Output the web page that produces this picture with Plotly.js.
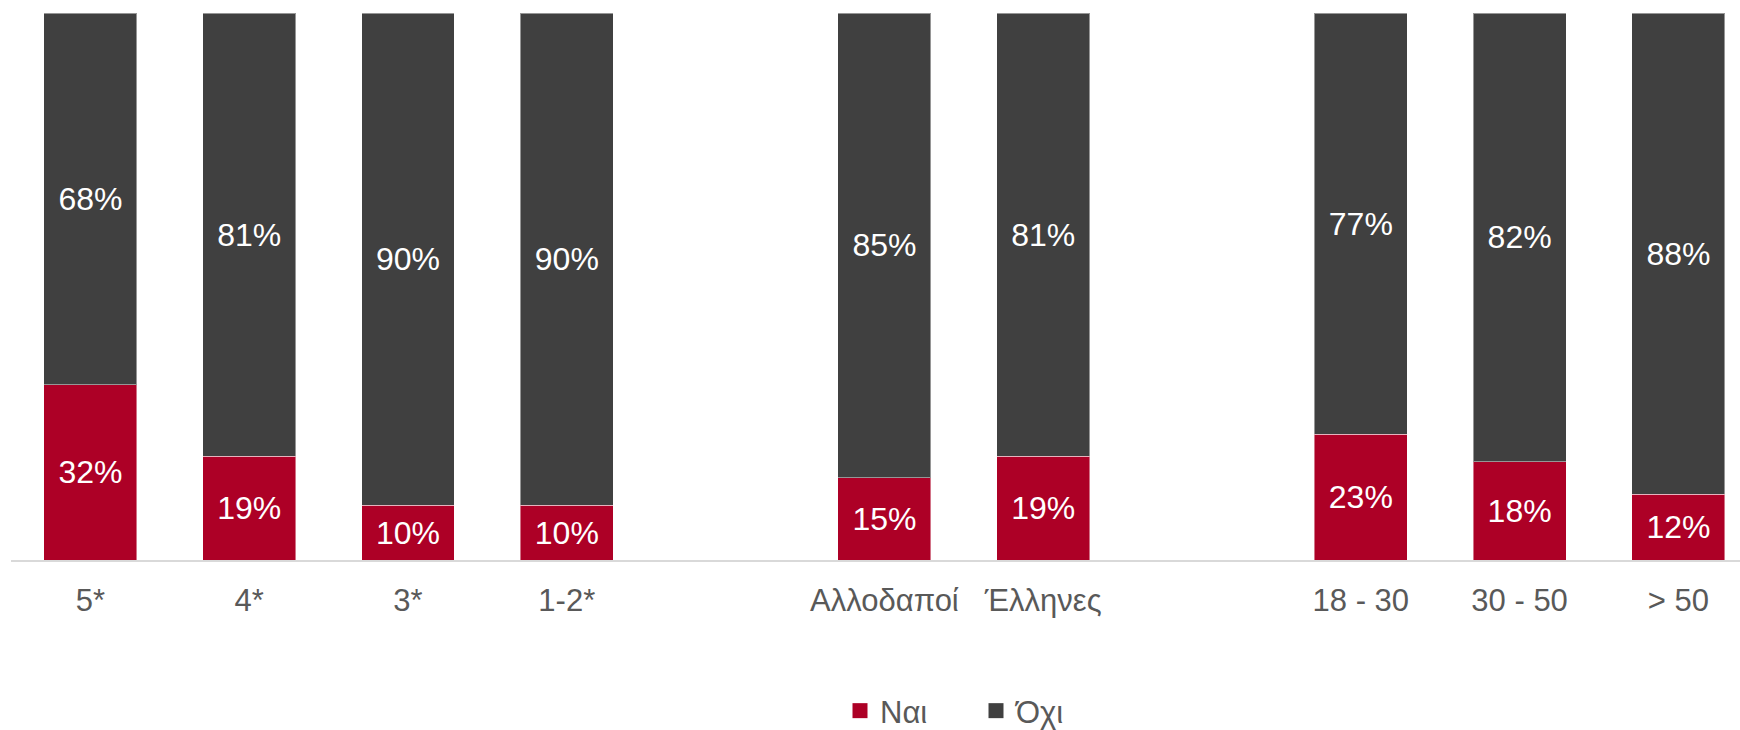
<!DOCTYPE html>
<html>
<head>
<meta charset="utf-8">
<script src="https://cdn.plot.ly/plotly-3.0.1.min.js"></script>
<style>html,body{margin:0;padding:0;background:#fff;}#chart{width:1740px;height:730px;}</style>
</head>
<body>
<div id="chart"></div>
<script>
// Category groups (a blank slot separates the groups)
const groupStars = ["5*", "4*", "3*", "1-2*"];
const groupOrigin = ["Αλλοδαποί", "Έλληνες"];
const groupAge = ["18 - 30", "30 - 50", "> 50"];

const seriesNames = ["Ναι", "Όχι"];
const yesValues = [32, 19, 10, 10, 15, 19, 23, 18, 12];
const noValues = [68, 81, 90, 90, 85, 81, 77, 82, 88];

const colors = { yes: "#AD0026", no: "#404040" };

// build positions from group structure (one empty slot between groups)
const groups = [groupStars, groupOrigin, groupAge];
const labels = [];
const xs = [];
let slot = 0;
groups.forEach(g => {
  g.forEach(c => { labels.push(c); xs.push(slot); slot++; });
  slot++; // gap
});

const fontFam = '"Liberation Sans", Arial, sans-serif';
const pct = v => v + "%";

const series = [
  { name: seriesNames[0], vals: yesValues, color: colors.yes },
  { name: seriesNames[1], vals: noValues, color: colors.no }
];

const barTraces = series.map(s => ({
  type: "bar",
  x: xs,
  y: s.vals,
  name: s.name,
  showlegend: false,
  width: 0.585,
  marker: { color: s.color, line: { color: "rgba(255,255,255,0.45)", width: 1 } },
  text: s.vals.map(pct),
  textposition: "inside",
  insidetextanchor: "middle",
  textfont: { color: "#ffffff", size: 32, family: fontFam },
  hoverinfo: "skip"
}));

// legend-only entries with square swatches
const legendTraces = series.map(s => ({
  type: "scatter",
  mode: "markers",
  x: [null],
  y: [null],
  name: s.name,
  marker: { symbol: "square", size: 15, color: s.color },
  hoverinfo: "skip"
}));

const plotWidth = 1740 - 11;
const slotPx = 158.8;

const layout = {
  width: 1740,
  height: 730,
  barmode: "stack",
  margin: { l: 11, r: 0, t: 13, b: 170 },
  paper_bgcolor: "#ffffff",
  plot_bgcolor: "#ffffff",
  showlegend: true,
  legend: {
    orientation: "h",
    traceorder: "normal",
    xref: "container",
    yref: "container",
    x: 840 / 1740, xanchor: "left",
    y: 19 / 730, yanchor: "middle",
    entrywidth: 91,
    font: { size: 31, family: fontFam, color: "#595959" },
    itemclick: false
  },
  xaxis: {
    range: [-0.5, -0.5 + plotWidth / slotPx],
    tickmode: "array",
    tickvals: xs,
    ticktext: labels,
    showgrid: false,
    zeroline: false,
    showline: true,
    linecolor: "#d9d9d9",
    linewidth: 1.5,
    ticks: "outside",
    ticklen: 12,
    tickcolor: "rgba(0,0,0,0)",
    tickfont: { size: 31, family: fontFam, color: "#595959" },
    fixedrange: true
  },
  yaxis: {
    range: [0, 100],
    visible: false,
    showgrid: false,
    zeroline: false,
    fixedrange: true
  }
};

Plotly.newPlot("chart", barTraces.concat(legendTraces), layout, { displayModeBar: false, staticPlot: true });
</script>
</body>
</html>
